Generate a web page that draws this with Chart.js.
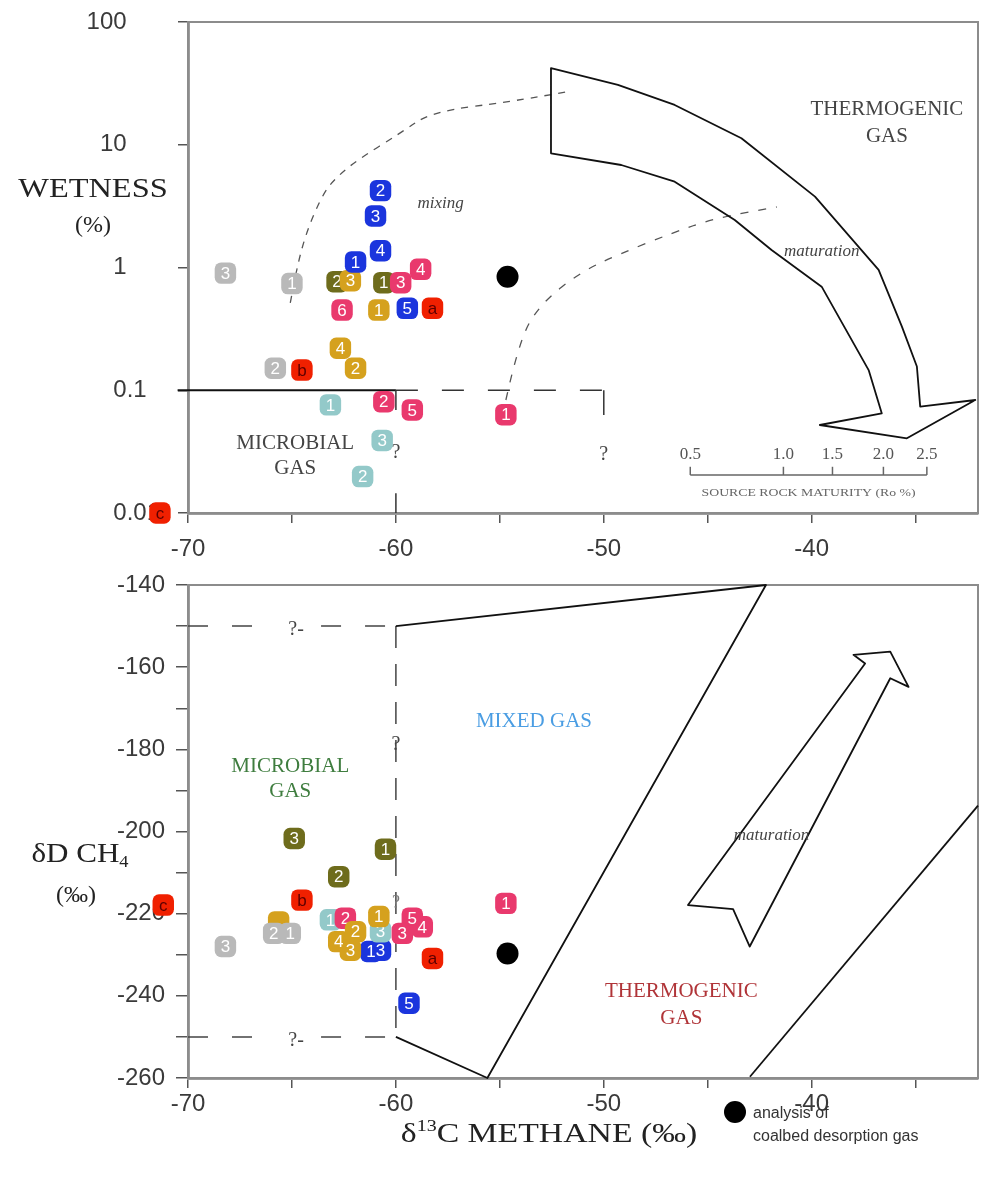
<!DOCTYPE html>
<html>
<head>
<meta charset="utf-8">
<title>Wetness y δD frente a δ13C del metano</title>
<script src="https://cdn.jsdelivr.net/npm/chart.js@4.4.1/dist/chart.umd.min.js"></script>
<style>
  html, body { margin: 0; padding: 0; background: #fff; }
  #wrap { position: relative; width: 981px; height: 1184px; }
  canvas { position: absolute; left: 0; }
  #graficoArriba { top: 0; }
  #graficoAbajo { top: 560px; }
</style>
</head>
<body>
<div id="wrap">
  <canvas id="graficoArriba" width="981" height="560"></canvas>
  <canvas id="graficoAbajo" width="981" height="624"></canvas>
</div>
<script>
// Datos: [δ13C metano (‰), valor, etiqueta]
// Gráfico superior: wetness (%)
const wetGris = [[-68.2, 0.90, '3'], [-65.0, 0.74, '1'], [-65.8, 0.151, '2']];
const wetTurquesa = [[-63.15, 0.076, '1'], [-61.6, 0.0198, '2'], [-60.66, 0.039, '3']];
const wetOliva = [[-62.83, 0.766, '2'], [-60.58, 0.752, '1']];
const wetOro = [[-62.19, 0.78, '3'], [-60.82, 0.45, '1'], [-62.67, 0.22, '4'], [-61.94, 0.151, '2']];
const wetAzul = [[-60.74, 4.23, '2'], [-60.98, 2.63, '3'], [-61.94, 1.11, '1'], [-60.74, 1.37, '4'], [-59.45, 0.465, '5']];
const wetRosa = [[-62.59, 0.45, '6'], [-59.77, 0.752, '3'], [-58.81, 0.967, '4'], [-60.58, 0.0807, '2'], [-59.21, 0.069, '5'], [-54.71, 0.0632, '1']];
const wetRojo = [[-58.24, 0.465, 'a'], [-64.52, 0.146, 'b'], [-71.35, 0.01, 'c']];
const wetNegro = [[-54.63, 0.84]];

// Gráfico inferior: δD CH4 (‰)
const ddAzul = [[-61.2, -229.2, '1'], [-60.74, -228.9, '3'], [-59.37, -241.8, '5']];
const ddTurquesa = [[-63.15, -221.5, '1'], [-60.74, -224.4, '3']];
const ddRosa = [[-62.43, -221.1, '2'], [-59.21, -221.1, '5'], [-58.73, -223.2, '4'], [-59.69, -224.8, '3'], [-54.71, -217.5, '1']];
const ddOro = [[-65.64, -222.0, ''], [-62.75, -226.8, '4'], [-62.19, -228.9, '3'], [-61.94, -224.4, '2'], [-60.82, -220.7, '1']];
const ddGris = [[-68.2, -228.0, '3'], [-65.88, -224.8, '2'], [-65.08, -224.8, '1']];
const ddOliva = [[-64.89, -201.7, '3'], [-60.5, -204.3, '1'], [-62.75, -211.0, '2']];
const ddRojo = [[-64.52, -216.7, 'b'], [-71.19, -217.9, 'c'], [-58.24, -230.9, 'a']];
const ddNegro = [[-54.63, -229.7]];

// Marcas de los ejes
const marcasX = [-70, -60, -50, -40];
const decadasWetness = [0.01, 0.1, 1, 10, 100];
const marcasDeltaD = [-260, -240, -220, -200, -180, -160, -140];

// Fuentes y colores
const fuenteSans = '"Liberation Sans", Arial, sans-serif';
const fuenteSerif = '"Liberation Serif", "DejaVu Serif", serif';
const colorTicks = '#3a3a3a';
Chart.defaults.font.family = fuenteSans;

// Convertir una lista de puntos en un dataset de Chart.js
function serie(puntos, color, colorTexto, estilo, radio) {
    return {
        data: puntos.map(p => ({ x: p[0], y: p[1], etiqueta: p[2] || '' })),
        backgroundColor: color,
        borderColor: 'rgba(0,0,0,0)', // borde invisible: sólo amplía el margen de dibujo
        borderWidth: 24,
        pointStyle: estilo || 'rectRounded',
        pointRadius: radio || 12.5,
        pointHoverRadius: radio || 12.5,
        clip: false, // algunos puntos caen fuera del área
        colorTexto: colorTexto || '#ffffff'
    };
}

// Texto con estiramiento horizontal opcional
function texto(ctx, s, x, y, font, color, align, sx) {
    ctx.save();
    ctx.font = font;
    ctx.fillStyle = color;
    ctx.textAlign = align || 'center';
    ctx.textBaseline = 'middle';
    ctx.translate(x, y);
    ctx.scale(sx || 1, 1);
    ctx.fillText(s, 0, 0);
    ctx.restore();
}

// Texto en varias partes (superíndices / subíndices), centrado en cx
function textoPartes(ctx, partes, cx, cy, color, sx) {
    ctx.save();
    let total = 0;
    partes.forEach(p => { ctx.font = p.font; total += ctx.measureText(p.t).width * sx; });
    let x = cx - total / 2;
    partes.forEach(p => {
        texto(ctx, p.t, x, cy + (p.dy || 0), p.font, color, 'left', sx);
        ctx.font = p.font;
        x += ctx.measureText(p.t).width * sx;
    });
    ctx.restore();
}

function aPixel(chart, p) {
    return [chart.scales.x.getPixelForValue(p[0]), chart.scales.y.getPixelForValue(p[1])];
}

// Dibujar una polilínea en unidades de datos
function trazo(chart, puntos, o) {
    const ctx = chart.ctx;
    const pts = puntos.map(p => aPixel(chart, p));
    ctx.save();
    ctx.strokeStyle = o.color || '#111';
    ctx.lineWidth = o.ancho || 1.6;
    ctx.setLineDash(o.guiones || []);
    ctx.lineJoin = 'round';
    ctx.beginPath();
    ctx.moveTo(pts[0][0], pts[0][1]);
    if (o.suave) {
        for (let i = 1; i < pts.length - 1; i++) {
            const mx = (pts[i][0] + pts[i + 1][0]) / 2;
            const my = (pts[i][1] + pts[i + 1][1]) / 2;
            ctx.quadraticCurveTo(pts[i][0], pts[i][1], mx, my);
        }
        ctx.lineTo(pts[pts.length - 1][0], pts[pts.length - 1][1]);
    } else {
        pts.slice(1).forEach(p => ctx.lineTo(p[0], p[1]));
    }
    if (o.cerrar) ctx.closePath();
    ctx.stroke();
    ctx.restore();
}

function textoDatos(chart, s, p, font, color, sx) {
    const [x, y] = aPixel(chart, p);
    texto(chart.ctx, s, x, y, font, color, 'center', sx);
}

function marco(chart) {
    const a = chart.chartArea;
    const ctx = chart.ctx;
    ctx.save();
    ctx.strokeStyle = '#8c8c8c';
    ctx.lineWidth = 2;
    ctx.strokeRect(a.left, a.top, a.right - a.left, a.bottom - a.top);
    ctx.restore();
}

// Etiquetas dentro de cada marcador, dibujadas justo después de su serie
const pluginEtiquetas = {
    id: 'etiquetas',
    afterDatasetDraw(chart, args) {
        const ds = chart.data.datasets[args.index];
        const ctx = chart.ctx;
        ctx.save();
        ctx.font = '17px ' + fuenteSans;
        ctx.textAlign = 'center';
        ctx.textBaseline = 'middle';
        ctx.fillStyle = ds.colorTexto;
        args.meta.data.forEach((punto, i) => {
            const t = ds.data[i].etiqueta;
            if (t) ctx.fillText(t, punto.x, punto.y + 1);
        });
        ctx.restore();
    }
};

// Contornos del gráfico superior (unidades de datos)
const flechaArriba = [[-52.54, 42.0], [-49.32, 30.7], [-46.59, 21.1], [-43.38, 11.3], [-39.84, 3.78], [-36.78, 0.955],
    [-35.66, 0.330], [-34.94, 0.156], [-34.78, 0.0735], [-32.13, 0.0833], [-35.42, 0.0406], [-39.61, 0.0521],
    [-36.63, 0.0649], [-37.26, 0.146], [-39.52, 0.698], [-41.93, 1.39], [-43.70, 2.44], [-46.59, 5.0],
    [-49.16, 6.84], [-52.54, 8.51]];
const curvaMezcla = [[-65.08, 0.514], [-64.76, 1.016], [-64.27, 2.02], [-63.49, 4.05], [-62.83, 5.49], [-61.86, 7.5],
    [-59.77, 12.5], [-58.3, 18.5], [-54.47, 22.5], [-51.81, 26.9]];
const curvaMaduracion = [[-54.71, 0.0833], [-54.07, 0.257], [-53.02, 0.511], [-51.09, 0.924], [-49.16, 1.306],
    [-46.75, 1.90], [-44.66, 2.52], [-41.68, 3.11]];
const madurezRo = ['0.5', '1.0', '1.5', '2.0', '2.5'];
const madurezX = [-45.84, -41.36, -39.0, -36.55, -34.46];

const anotacionesArriba = {
    id: 'anotacionesArriba',
    beforeDatasetsDraw(chart) {
        marco(chart);
        // límite de gas microbiano
        trazo(chart, [[-70.5, 0.1], [-60, 0.1]], { color: '#111', ancho: 2 });
        trazo(chart, [[-60, 0.1], [-50, 0.1]], { color: '#333', ancho: 1.5, guiones: [22, 24] });
        trazo(chart, [[-60, 0.1], [-60, 0.069]], { color: '#333', ancho: 1.5 });
        trazo(chart, [[-60, 0.0145], [-60, 0.01]], { color: '#333', ancho: 1.5 });
        trazo(chart, [[-50, 0.1], [-50, 0.063]], { color: '#333', ancho: 1.5 });
        textoDatos(chart, '?', [-60, 0.031], '20px ' + fuenteSerif, '#444');
        textoDatos(chart, '?', [-50, 0.0297], '20px ' + fuenteSerif, '#444');
        // curvas de mezcla y maduración
        trazo(chart, curvaMezcla, { color: '#555', ancho: 1.3, guiones: [7, 7], suave: true });
        trazo(chart, curvaMaduracion, { color: '#555', ancho: 1.3, guiones: [8, 10], suave: true });
        trazo(chart, flechaArriba, { color: '#111', ancho: 1.8, cerrar: true });
        // escala de madurez de la roca madre
        const yBarra = 0.0204, yMarca = 0.0238;
        trazo(chart, [[madurezX[0], yBarra], [madurezX[4], yBarra]], { color: '#666', ancho: 1.5 });
        madurezX.forEach((x, i) => {
            trazo(chart, [[x, yBarra], [x, yMarca]], { color: '#666', ancho: 1.5 });
            textoDatos(chart, madurezRo[i], [x, 0.0297], '17px ' + fuenteSerif, '#555');
        });
        textoDatos(chart, 'SOURCE ROCK MATURITY (Ro %)', [-40.15, 0.01455], '11px ' + fuenteSerif, '#666', 1.25);
        // rótulos
        textoDatos(chart, 'mixing', [-57.85, 3.35], 'italic 17px ' + fuenteSerif, '#444');
        textoDatos(chart, 'maturation', [-39.52, 1.34], 'italic 17px ' + fuenteSerif, '#444');
        textoDatos(chart, 'THERMOGENIC', [-36.38, 19.2], '21px ' + fuenteSerif, '#444');
        textoDatos(chart, 'GAS', [-36.38, 11.6], '21px ' + fuenteSerif, '#444');
        textoDatos(chart, 'MICROBIAL', [-64.84, 0.037], '21px ' + fuenteSerif, '#444');
        textoDatos(chart, 'GAS', [-64.84, 0.0231], '21px ' + fuenteSerif, '#444');
    },
    afterDraw(chart) {
        const ctx = chart.ctx;
        texto(ctx, 'WETNESS', 93, 190, '27px ' + fuenteSerif, '#222', 'center', 1.2);
        texto(ctx, '(%)', 93, 226, '24px ' + fuenteSerif, '#222');
    }
};

// Contornos del gráfico inferior (unidades de datos)
const limiteMixto = [[-60, -150], [-42.2, -140], [-55.6, -260], [-60, -250]];
const limiteTermo = [[-42.97, -259.7], [-32, -193.7]];
const flechaAbajo = [[-45.95, -217.9], [-43.78, -218.9], [-42.98, -228.0], [-36.22, -162.7], [-35.34, -164.8],
    [-36.22, -156.2], [-37.99, -157.0], [-37.43, -159.1]];

const anotacionesAbajo = {
    id: 'anotacionesAbajo',
    beforeDatasetsDraw(chart) {
        marco(chart);
        const guion = { color: '#444', ancho: 1.5, guiones: [20, 24] };
        trazo(chart, [[-70, -150], [-66.3, -150]], guion);
        trazo(chart, [[-63.6, -150], [-60, -150]], guion);
        trazo(chart, [[-70, -250], [-66.3, -250]], guion);
        trazo(chart, [[-63.6, -250], [-60, -250]], guion);
        trazo(chart, [[-60, -150], [-60, -250]], { color: '#444', ancho: 1.5, guiones: [22, 16] });
        textoDatos(chart, '?-', [-64.8, -151], '20px ' + fuenteSerif, '#444');
        textoDatos(chart, '?-', [-64.8, -251], '20px ' + fuenteSerif, '#444');
        textoDatos(chart, '?', [-60, -179], '20px ' + fuenteSerif, '#444');
        textoDatos(chart, '?', [-60, -217.5], '18px ' + fuenteSerif, '#777');
        trazo(chart, limiteMixto, { color: '#111', ancho: 1.8 });
        trazo(chart, limiteTermo, { color: '#111', ancho: 1.8 });
        trazo(chart, flechaAbajo, { color: '#111', ancho: 1.8, cerrar: true });
        // rótulos de zonas
        textoDatos(chart, 'MIXED GAS', [-53.36, -173.3], '21px ' + fuenteSerif, '#4a9de3');
        textoDatos(chart, 'MICROBIAL', [-65.08, -184.2], '21px ' + fuenteSerif, '#3f7d3f');
        textoDatos(chart, 'GAS', [-65.08, -190.3], '21px ' + fuenteSerif, '#3f7d3f');
        textoDatos(chart, 'THERMOGENIC', [-46.27, -239.0], '21px ' + fuenteSerif, '#b03438');
        textoDatos(chart, 'GAS', [-46.27, -245.5], '21px ' + fuenteSerif, '#b03438');
        textoDatos(chart, 'maturation', [-41.93, -200.9], 'italic 17px ' + fuenteSerif, '#444');
    },
    afterDraw(chart) {
        const ctx = chart.ctx;
        const f = '27px ' + fuenteSerif, fp = '16px ' + fuenteSerif;
        // título eje y
        textoPartes(ctx, [{ t: 'δD CH', font: f }, { t: '4', font: fp, dy: 8 }], 80, 295, '#222', 1.15);
        texto(ctx, '(‰)', 76, 336, '24px ' + fuenteSerif, '#222');
        // título eje x
        textoPartes(ctx, [{ t: 'δ', font: f }, { t: '13', font: fp, dy: -8 }, { t: 'C METHANE (‰)', font: f }], 549, 575, '#222', 1.25);
        // leyenda
        ctx.save();
        ctx.fillStyle = '#000';
        ctx.beginPath();
        ctx.arc(735, 552, 11, 0, Math.PI * 2);
        ctx.fill();
        ctx.restore();
        texto(ctx, 'analysis of', 753, 554, '16px ' + fuenteSans, '#333', 'left');
        texto(ctx, 'coalbed desorption gas', 753, 577, '16px ' + fuenteSans, '#333', 'left');
    }
};

// Eje x común a ambos gráficos
function ejeX(alto, separacion) {
    return {
        type: 'linear',
        min: -70,
        max: -32,
        ticks: {
            stepSize: 5,
            includeBounds: false,
            autoSkip: false,
            maxRotation: 0,
            padding: separacion,
            color: colorTicks,
            font: { size: 24, family: fuenteSans },
            callback: v => marcasX.includes(Math.round(v)) ? String(Math.round(v)) : ''
        },
        grid: { drawOnChartArea: false, drawTicks: true, tickLength: 10, color: '#555', lineWidth: 1.5 },
        border: { display: true, color: '#9c9c9c', width: 3 },
        afterFit: s => { s.height = alto; s.paddingLeft = 0; s.paddingRight = 0; }
    };
}

// Etiquetas logarítmicas alineadas por el punto decimal
function etiquetaDecada(v) {
    if (v >= 1) return String(Math.round(v)) + '\u2008\u2007\u2007';
    if (v > 0.05) return '0.1\u2007';
    return '0.01';
}

const opcionesBase = {
    responsive: false,
    animation: false,
    devicePixelRatio: 1,
    events: [],
    plugins: { legend: { display: false }, tooltip: { enabled: false } }
};

// Gráfico superior: wetness
new Chart(document.getElementById('graficoArriba'), {
    type: 'scatter',
    data: {
        datasets: [
            serie(wetGris, '#b9b9b9'),
            serie(wetTurquesa, '#93c9c9'),
            serie(wetOliva, '#6e6c1c'),
            serie(wetOro, '#d5a11e'),
            serie(wetAzul, '#1b35dd'),
            serie(wetRosa, '#e9396d'),
            serie(wetRojo, '#f02000', '#5c0000'),
            serie(wetNegro, '#000000', '#000000', 'circle', 11)
        ].reverse() // Chart.js dibuja la primera serie encima
    },
    options: {
        ...opcionesBase,
        layout: { autoPadding: false, padding: { top: 22, right: 3, left: 0, bottom: 0 } },
        scales: {
            x: ejeX(47, 12),
            y: {
                type: 'logarithmic',
                min: 0.01,
                max: 100,
                afterBuildTicks: s => { s.ticks = decadasWetness.map(v => ({ value: v })); },
                ticks: { autoSkip: false, padding: 18, color: colorTicks, font: { size: 24, family: fuenteSans }, callback: v => etiquetaDecada(v) },
                grid: { drawOnChartArea: false, drawTicks: true, tickLength: 10, color: '#555', lineWidth: 1.5 },
                border: { display: true, color: '#9c9c9c', width: 3 },
                afterFit: s => { s.width = 188; s.paddingTop = 0; s.paddingBottom = 0; }
            }
        }
    },
    plugins: [pluginEtiquetas, anotacionesArriba]
});

// Gráfico inferior: δD del metano
new Chart(document.getElementById('graficoAbajo'), {
    type: 'scatter',
    data: {
        datasets: [
            serie(ddAzul, '#1b35dd'),
            serie(ddTurquesa, '#93c9c9'),
            serie(ddRosa, '#e9396d'),
            serie(ddOro, '#d5a11e'),
            serie(ddGris, '#b9b9b9'),
            serie(ddOliva, '#6e6c1c'),
            serie(ddRojo, '#f02000', '#5c0000'),
            serie(ddNegro, '#000000', '#000000', 'circle', 11)
        ].reverse()
    },
    options: {
        ...opcionesBase,
        layout: { autoPadding: false, padding: { top: 25, right: 3, left: 0, bottom: 0 } },
        scales: {
            x: ejeX(106, 2),
            y: {
                type: 'linear',
                min: -260,
                max: -140,
                ticks: {
                    stepSize: 10,
                    autoSkip: false,
                    padding: 11,
                    color: colorTicks,
                    font: { size: 24, family: fuenteSans },
                    callback: v => marcasDeltaD.includes(Math.round(v)) ? String(Math.round(v)) : ''
                },
                grid: { drawOnChartArea: false, drawTicks: true, tickLength: 12, color: '#555', lineWidth: 1.5 },
                border: { display: true, color: '#9c9c9c', width: 3 },
                afterFit: s => { s.width = 188; s.paddingTop = 0; s.paddingBottom = 0; }
            }
        }
    },
    plugins: [pluginEtiquetas, anotacionesAbajo]
});
</script>
</body>
</html>
